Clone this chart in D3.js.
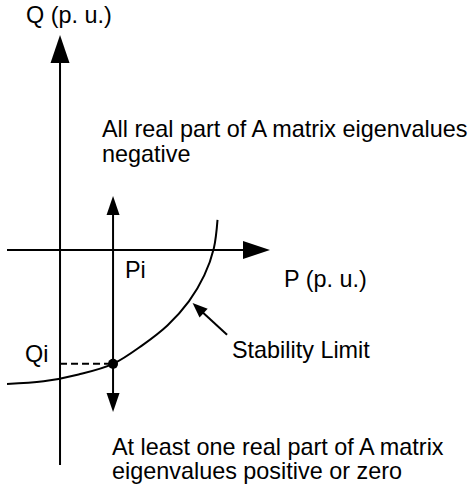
<!DOCTYPE html>
<html>
<head>
<meta charset="utf-8">
<script src="https://cdn.jsdelivr.net/npm/d3@7"></script>
<style>
  html, body { margin: 0; padding: 0; background: #fff; }
  svg text { font-family: "Liberation Sans", Arial, sans-serif; font-size: 23.4px; fill: #000; }
</style>
</head>
<body>
<svg id="chart" width="473" height="496"></svg>
<script>
// Stability limit curve in the P-Q plane (p.u.)
const curveP = [-1.0, -0.31, 0.35, 1.0, 1.55, 2.03, 2.43, 2.72, 2.90, 2.97];
const curveQ = [-2.53, -2.48, -2.35, -2.15, -1.80, -1.42, -0.97, -0.48, 0.03, 0.57];

// Operating point (Pi, Qi) on the limit
const opP = [1.0];
const opQ = [-2.15];

// Axis extents (p.u.)
const pExtent = [-1.0, 3.96];
const qExtent = [-4.06, 4.06];

// Double-headed arrow through Pi (Q range)
const sweepQ = [1.02, -3.06];

// Pointer to the curve: tail, head
const pointerP = [3.15, 2.50];
const pointerQ = [-1.6, -1.0];

// Text labels
const axisLabels = ["Q (p. u.)", "P (p. u.)"];
const pointLabels = ["Pi", "Qi", "Stability Limit"];
const regionStable = ["All real part of A matrix eigenvalues", "negative"];
const regionUnstable = ["At least one real part of A matrix", "eigenvalues positive or zero"];

const svg = d3.select("#chart");
const x = d3.scaleLinear().domain(pExtent).range([7, 270]);
const y = d3.scaleLinear().domain(qExtent).range([465, 35]);

const sw = 2;

// Filled triangular arrowhead: tip at (tx,ty), pointing along direction (dx,dy)
function arrowHead(tx, ty, dx, dy, len, half) {
  const n = Math.hypot(dx, dy); const ux = dx / n, uy = dy / n;
  const bx = tx - ux * len, by = ty - uy * len;
  const px = -uy, py = ux;
  svg.append("path")
    .attr("d", `M${tx},${ty}L${bx + px * half},${by + py * half}L${bx - px * half},${by - py * half}Z`)
    .attr("fill", "#000");
}

// Q axis
svg.append("line")
  .attr("x1", x(0)).attr("x2", x(0))
  .attr("y1", y(qExtent[0])).attr("y2", y(qExtent[1]) + 20)
  .attr("stroke", "#000").attr("stroke-width", sw);
arrowHead(x(0), y(qExtent[1]), 0, -1, 28, 9.5);

// P axis
svg.append("line")
  .attr("x1", x(pExtent[0])).attr("x2", x(pExtent[1]) - 20)
  .attr("y1", y(0)).attr("y2", y(0))
  .attr("stroke", "#000").attr("stroke-width", sw);
arrowHead(x(pExtent[1]), y(0), 1, 0, 27, 9);

// Double arrow at Pi
svg.append("line")
  .attr("x1", x(opP[0])).attr("x2", x(opP[0]))
  .attr("y1", y(sweepQ[0]) + 12).attr("y2", y(sweepQ[1]) - 12)
  .attr("stroke", "#000").attr("stroke-width", sw);
arrowHead(x(opP[0]), y(sweepQ[0]), 0, -1, 19, 6.5);
arrowHead(x(opP[0]), y(sweepQ[1]), 0, 1, 19, 6.5);

// Stability limit curve
const pts = curveP.map((p, i) => [x(p), y(curveQ[i])]);
svg.append("path")
  .attr("d", d3.line().curve(d3.curveCatmullRom.alpha(0.5))(pts))
  .attr("fill", "none").attr("stroke", "#000").attr("stroke-width", sw);

// Dashed projection to the Q axis
svg.append("line")
  .attr("x1", x(0)).attr("x2", x(opP[0]))
  .attr("y1", y(opQ[0])).attr("y2", y(opQ[0]))
  .attr("stroke", "#000").attr("stroke-width", sw)
  .attr("stroke-dasharray", "7,4");

// Operating point
svg.append("circle")
  .attr("cx", x(opP[0])).attr("cy", y(opQ[0])).attr("r", 5)
  .attr("fill", "#000");

// Pointer arrow to the curve
const tx0 = x(pointerP[0]), ty0 = y(pointerQ[0]);
const tx1 = x(pointerP[1]), ty1 = y(pointerQ[1]);
svg.append("line")
  .attr("x1", tx0).attr("y1", ty0)
  .attr("x2", tx1 + (tx0 - tx1) * 0.25).attr("y2", ty1 + (ty0 - ty1) * 0.25)
  .attr("stroke", "#000").attr("stroke-width", sw);
arrowHead(tx1, ty1, tx1 - tx0, ty1 - ty0, 15, 6);

// Labels
function label(txt, lx, ly) {
  svg.append("text").attr("x", lx).attr("y", ly).text(txt);
}
label(axisLabels[0], 26, 23);
label(axisLabels[1], 284, 287);
label(pointLabels[0], 125, 278);
label(pointLabels[1], 25, 362);
label(pointLabels[2], 232, 358);
regionStable.forEach((t, i) => label(t, 102, 137 + i * 25));
regionUnstable.forEach((t, i) => label(t, 112, 455 + i * 24));
</script>
</body>
</html>
